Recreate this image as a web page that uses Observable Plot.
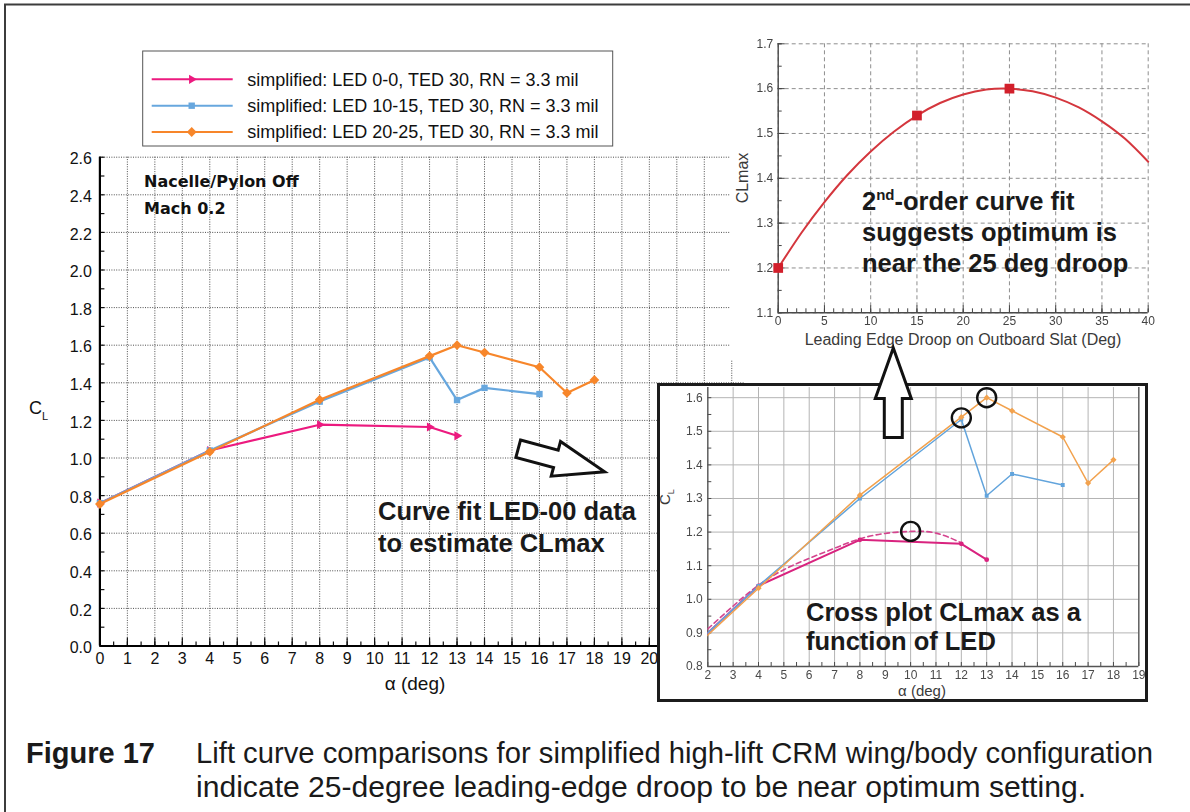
<!DOCTYPE html>
<html>
<head>
<meta charset="utf-8">
<script src="https://cdn.jsdelivr.net/npm/d3@7"></script>
<script src="https://cdn.jsdelivr.net/npm/@observablehq/plot@0.6"></script>
<style>
  html, body { margin: 0; padding: 0; background: #fff; }
  #figure { position: relative; width: 1190px; height: 812px; overflow: hidden; background: #fff; }
  .panel { position: absolute; }
  #droop { filter: blur(0.35px); }
  #inset { position: absolute; left: 657px; top: 383px; width: 485px; height: 313px;
           border: 3px solid #1c1c1c; background: #fff; overflow: hidden; }
  #inset > svg { filter: blur(0.3px); }
  #overlay { position: absolute; left: 0; top: 0; pointer-events: none; }
</style>
</head>
<body>
<div id="figure">
  <div id="main" class="panel" style="left:0;top:0"></div>
  <div id="droop" class="panel" style="left:730px;top:0"></div>
  <div id="inset"></div>
  <svg id="overlay" width="1190" height="812"></svg>
</div>
<script>
const FONT = '"Liberation Sans", Arial, Helvetica, sans-serif';

// ---- lift curves: angle of attack (deg) vs CL, one array pair per slat setting ----
const seriesNames = [
  "simplified: LED 0-0, TED 30, RN = 3.3 mil",
  "simplified: LED 10-15, TED 30, RN = 3.3 mil",
  "simplified: LED 20-25, TED 30, RN = 3.3 mil"
];
const seriesColors = ["#ec1a7f", "#67a7de", "#f7862a"];
const insetColors  = ["#d9237f", "#62a4dc", "#f2a24e"];
const seriesSymbols = ["triangle", "square", "diamond2"];
const seriesRotate  = [90, 0, 0];
const seriesR       = [3.4, 3.6, 4.4];
const insetR        = [2.4, 2.2, 2.8];

const alphaLED00   = [0, 4, 8, 12, 13];
const clLED00      = [0.76, 1.04, 1.177, 1.165, 1.118];
const alphaLED1015 = [0, 4, 8, 12, 13, 14, 16];
const clLED1015    = [0.76, 1.04, 1.30, 1.535, 1.308, 1.373, 1.34];
const alphaLED2025 = [0, 4, 8, 12, 13, 14, 16, 17, 18];
const clLED2025    = [0.755, 1.033, 1.31, 1.542, 1.60, 1.561, 1.483, 1.346, 1.415];

// curve fit through the LED 0-0 points (dashed in the close-up)
const fitAlpha = [2, 3, 4, 5, 6, 7, 8, 9, 10, 11, 12];
const fitCL    = [0.912, 0.980, 1.042, 1.088, 1.122, 1.152, 1.180, 1.196, 1.202, 1.197, 1.168];

// CLmax picked off each curve (circled)
const clmaxAlpha = [10, 12, 13];
const clmaxCL    = [1.202, 1.54, 1.60];

// cross plot: CLmax against leading-edge droop, with its 2nd-order fit
const droopDeg      = [0, 15, 25];
const droopCLmax    = [1.20, 1.54, 1.60];
const droopFitDeg   = [0, 2.5, 5, 7.5, 10, 12.5, 15, 17.5, 20, 22.5, 25, 27.5, 30, 32.5, 35, 37.5, 40];
const droopFitCLmax = [1.200, 1.278, 1.347, 1.408, 1.460, 1.504, 1.540, 1.568, 1.587, 1.598, 1.600, 1.594, 1.580, 1.558, 1.527, 1.488, 1.437];

// tick values
const mainAlphaTicks  = [0, 1, 2, 3, 4, 5, 6, 7, 8, 9, 10, 11, 12, 13, 14, 15, 16, 17, 18, 19, 20];
const mainCLTicks     = [0.0, 0.2, 0.4, 0.6, 0.8, 1.0, 1.2, 1.4, 1.6, 1.8, 2.0, 2.2, 2.4, 2.6];
const insetAlphaTicks = [2, 3, 4, 5, 6, 7, 8, 9, 10, 11, 12, 13, 14, 15, 16, 17, 18, 19];
const insetCLTicks    = [0.8, 0.9, 1.0, 1.1, 1.2, 1.3, 1.4, 1.5, 1.6];
const droopTicks      = [0, 5, 10, 15, 20, 25, 30, 35, 40];
const droopCLTicks    = [1.1, 1.2, 1.3, 1.4, 1.5, 1.6, 1.7];

// ---- tables built from the arrays ----
const lift = [[alphaLED00, clLED00], [alphaLED1015, clLED1015], [alphaLED2025, clLED2025]]
  .map(([a, c], s) => a.map((alpha, i) => ({series: s, alpha, cl: c[i]})));
const fit = fitAlpha.map((alpha, i) => ({alpha, cl: fitCL[i]}));
const clmax = clmaxAlpha.map((alpha, i) => ({alpha, cl: clmaxCL[i]}));
const droopPts = droopDeg.map((deg, i) => ({deg, cl: droopCLmax[i]}));
const droopFit = droopFitDeg.map((deg, i) => ({deg, cl: droopFitCLmax[i]}));

const fmt1 = d3.format(".1f");
const blank = () => "";
const steps = (lo, hi, step) => d3.range(Math.round((hi - lo) / step) + 1).map(i => +(lo + i * step).toFixed(3));

// ---- main lift-curve chart (its right part runs under the two insets) ----
const dotted = {stroke: "#3a3a3a", strokeWidth: 0.9, strokeDasharray: "1 1.4", strokeOpacity: 1};
const mainGridAlpha = steps(0, 23, 1);
const mainPlot = Plot.plot({
  width: 760, height: 700,
  marginTop: 156.7, marginRight: 15, marginBottom: 54.5, marginLeft: 99.4,
  x: {domain: [0, 23.5], label: null},
  y: {domain: [0, 2.6], label: null},
  style: {fontFamily: FONT, fontSize: "16px", color: "#111", background: "transparent", overflow: "visible"},
  marks: [
    Plot.gridX(mainGridAlpha, dotted),
    Plot.gridY(mainCLTicks, dotted),
    Plot.axisY(steps(0, 2.6, 0.1), {tickSize: -5, tickFormat: blank, strokeWidth: 1.2, label: null}),
    Plot.axisX(steps(0, 23, 0.5), {tickSize: -4, tickFormat: blank, strokeWidth: 1.2, label: null}),
    Plot.axisX(mainGridAlpha, {tickSize: -8, tickFormat: blank, strokeWidth: 1.2, label: null}),
    Plot.axisY(mainCLTicks, {tickSize: 0, tickPadding: 8, tickFormat: fmt1, fontSize: 16, dy: 2, label: null}),
    Plot.axisX(mainAlphaTicks, {tickSize: 0, tickPadding: 7, fontSize: 16, label: null}),
    Plot.ruleX([0], {stroke: "#000", strokeWidth: 2.2}),
    Plot.ruleY([0], {stroke: "#000", strokeWidth: 2.2}),
    ...lift.flatMap((rows, s) => [
      Plot.line(rows, {x: "alpha", y: "cl", stroke: seriesColors[s], strokeWidth: 2.2}),
      Plot.dot(rows, {x: "alpha", y: "cl", symbol: seriesSymbols[s], rotate: seriesRotate[s],
                      r: seriesR[s], fill: seriesColors[s], stroke: "none"})
    ])
  ]
});
document.getElementById("main").append(mainPlot);

// ---- CLmax vs droop cross plot ----
const dashed = {stroke: "#8e8e8e", strokeWidth: 1, strokeDasharray: "4 3", strokeOpacity: 1};
const droopPlot = Plot.plot({
  width: 450, height: 360,
  marginTop: 43.3, marginRight: 32.3, marginBottom: 47.7, marginLeft: 47.7,
  x: {domain: [0, 40], label: null},
  y: {domain: [1.1, 1.7], label: null},
  style: {fontFamily: FONT, fontSize: "12px", color: "#444", background: "white", overflow: "visible"},
  marks: [
    Plot.gridX(droopTicks, dashed),
    Plot.gridY(droopCLTicks, dashed),
    Plot.axisX(steps(0, 40, 1), {tickSize: -4, tickFormat: blank, label: null}),
    Plot.axisX(droopTicks, {tickSize: -7, tickFormat: blank, label: null}),
    Plot.axisY(steps(1.1, 1.7, 0.05), {tickSize: -4, tickFormat: blank, label: null}),
    Plot.axisY(droopCLTicks, {tickSize: -7, tickFormat: blank, label: null}),
    Plot.axisY(droopCLTicks, {tickSize: 0, tickPadding: 5, tickFormat: fmt1, fontSize: 12, label: null}),
    Plot.axisX(droopTicks, {tickSize: 0, tickPadding: 4, fontSize: 12, label: null}),
    Plot.ruleX([0], {stroke: "#4a4a4a", strokeWidth: 1.4}),
    Plot.ruleY([1.1], {stroke: "#4a4a4a", strokeWidth: 1.4}),
    Plot.line(droopFit, {x: "deg", y: "cl", curve: "natural", stroke: "#d4363d", strokeWidth: 2}),
    Plot.dot(droopPts, {x: "deg", y: "cl", symbol: "square", r: 5.5, fill: "#d21f2b", stroke: "none"})
  ]
});
document.getElementById("droop").append(droopPlot);

// ---- close-up of the stall region ----
const solidGrid = {stroke: "#b4b4b4", strokeWidth: 1, strokeOpacity: 1};
const insetPlot = Plot.plot({
  width: 485, height: 313,
  marginTop: 1.1, marginRight: 6.7, marginBottom: 33, marginLeft: 47.3,
  x: {domain: [2, 19], label: null},
  y: {domain: [0.8, 1.63], label: null},
  style: {fontFamily: FONT, fontSize: "12px", color: "#4a4a4a", background: "white", overflow: "hidden"},
  marks: [
    Plot.gridX(insetAlphaTicks, solidGrid),
    Plot.gridY(insetCLTicks, solidGrid),
    Plot.axisX(steps(2, 19, 0.5), {tickSize: -4, tickFormat: blank, label: null}),
    Plot.axisY(steps(0.8, 1.6, 0.05), {tickSize: -4, tickFormat: blank, label: null}),
    Plot.axisY(insetCLTicks, {tickSize: 0, tickPadding: 5, tickFormat: fmt1, fontSize: 12, label: null}),
    Plot.axisX(insetAlphaTicks, {tickSize: 0, tickPadding: 4, fontSize: 12, label: null}),
    Plot.ruleX([2, 19], {stroke: "#555", strokeWidth: 1.3}),
    Plot.ruleY([0.8], {stroke: "#555", strokeWidth: 1.3}),
    Plot.line(fit, {x: "alpha", y: "cl", curve: "natural", stroke: "#d4448e", strokeWidth: 1.6,
                    strokeDasharray: "5 3.5", clip: true}),
    ...lift.flatMap((rows, s) => [
      Plot.line(rows, {x: "alpha", y: "cl", stroke: insetColors[s], strokeWidth: s === 0 ? 2 : 1.5, clip: true}),
      Plot.dot(rows, {x: "alpha", y: "cl", symbol: s === 1 ? "square" : (s === 2 ? "diamond2" : "circle"),
                      r: insetR[s], fill: insetColors[s], stroke: "none", clip: true})
    ]),
    Plot.dot(clmax, {x: "alpha", y: "cl", r: 9.5, fill: "none", stroke: "#111", strokeWidth: 2.4})
  ]
});
document.getElementById("inset").append(insetPlot);

// ---- legend, annotations, arrows and caption ----
const svg = d3.select("#overlay");

svg.append("path").attr("d", "M5,812V4.5H1190")
  .attr("fill", "none").attr("stroke", "#3c3c3c").attr("stroke-width", 2);

// legend
const legend = svg.append("g").attr("font-family", FONT).attr("font-size", 18).attr("fill", "#111");
legend.append("rect").attr("x", 142.7).attr("y", 51).attr("width", 470).attr("height", 95)
  .attr("fill", "white").attr("stroke", "#555").attr("stroke-width", 1);
const symbolTypes = {triangle: d3.symbolTriangle, square: d3.symbolSquare, diamond2: d3.symbolDiamond2};
const rowY = [79.3, 105.7, 132];
seriesNames.forEach((name, s) => {
  const y = rowY[s];
  legend.append("line").attr("x1", 151.7).attr("x2", 232.7).attr("y1", y).attr("y2", y)
    .attr("stroke", seriesColors[s]).attr("stroke-width", 2);
  legend.append("path")
    .attr("d", d3.symbol(symbolTypes[seriesSymbols[s]], Math.PI * seriesR[s] * seriesR[s])())
    .attr("transform", `translate(191.7,${y}) rotate(${seriesRotate[s]})`)
    .attr("fill", seriesColors[s]);
  legend.append("text").attr("x", 247.3).attr("y", y + 6.4).text(name);
});

// flight condition note
const note = svg.append("g").attr("font-family", '"DejaVu Sans", Verdana, sans-serif')
  .attr("font-weight", "bold").attr("font-size", 16).attr("fill", "#111");
note.append("text").attr("x", 144).attr("y", 187).text("Nacelle/Pylon Off");
note.append("text").attr("x", 144).attr("y", 214).text("Mach 0.2");

// axis titles
const titles = svg.append("g").attr("font-family", FONT).attr("fill", "#111");
const mainCL = titles.append("text").attr("x", 29).attr("y", 414).attr("font-size", 18);
mainCL.append("tspan").text("C");
mainCL.append("tspan").attr("font-size", 11).attr("dy", 6).text("L");
titles.append("text").attr("x", 415).attr("y", 690).attr("font-size", 19)
  .attr("text-anchor", "middle").text("α (deg)");

titles.append("text").attr("transform", "translate(748,178) rotate(-90)")
  .attr("font-size", 16).attr("fill", "#3a3a3a").attr("text-anchor", "middle").text("CLmax");
titles.append("text").attr("x", 963).attr("y", 345).attr("font-size", 16).attr("fill", "#3a3a3a")
  .attr("text-anchor", "middle").text("Leading Edge Droop on Outboard Slat (Deg)");

const insetCL = titles.append("text").attr("transform", "translate(670,505) rotate(-90)")
  .attr("font-size", 15).attr("fill", "#3a3a3a");
insetCL.append("tspan").text("C");
insetCL.append("tspan").attr("font-size", 9).attr("dy", 4).text("L");
titles.append("text").attr("x", 922).attr("y", 696).attr("font-size", 15).attr("fill", "#3a3a3a")
  .attr("text-anchor", "middle").text("α (deg)");

// callouts
const call = svg.append("g").attr("font-family", FONT).attr("font-weight", "bold")
  .attr("font-size", 25.5).attr("fill", "#1a1a1a");
call.append("text").attr("x", 378).attr("y", 520).text("Curve fit LED-00 data");
call.append("text").attr("x", 378).attr("y", 552).text("to estimate CLmax");
const t2 = call.append("text").attr("x", 862).attr("y", 210);
t2.append("tspan").text("2");
t2.append("tspan").attr("font-size", 15).attr("dy", -10).text("nd");
t2.append("tspan").attr("dy", 10).text("-order curve fit");
call.append("text").attr("x", 862).attr("y", 241).text("suggests optimum is");
call.append("text").attr("x", 862).attr("y", 272).text("near the 25 deg droop");
call.append("text").attr("x", 806).attr("y", 621).text("Cross plot CLmax as a");
call.append("text").attr("x", 806).attr("y", 650).text("function of LED");

// hollow block arrows
const arrowShape = "0,-9 39,-9 39,-18 89.5,0 39,18 39,9 0,9";
svg.append("polygon").attr("points", arrowShape).attr("transform", "translate(518.2,448.7) rotate(15)")
  .attr("fill", "white").attr("stroke", "#111").attr("stroke-width", 3).attr("stroke-linejoin", "miter");
svg.append("polygon").attr("points", arrowShape).attr("transform", "translate(893.3,437.5) rotate(-90)")
  .attr("fill", "white").attr("stroke", "#111").attr("stroke-width", 3).attr("stroke-linejoin", "miter");

// caption
const cap = svg.append("g").attr("font-family", FONT).attr("font-size", 29).attr("fill", "#1a1a1a");
cap.append("text").attr("x", 26).attr("y", 763).attr("font-weight", "bold").text("Figure 17");
cap.append("text").attr("x", 196).attr("y", 763)
  .attr("textLength", 957).attr("lengthAdjust", "spacingAndGlyphs")
  .text("Lift curve comparisons for simplified high-lift CRM wing/body configuration");
cap.append("text").attr("x", 196).attr("y", 797)
  .attr("textLength", 890).attr("lengthAdjust", "spacingAndGlyphs")
  .text("indicate 25-degree leading-edge droop to be near optimum setting.");
</script>
</body>
</html>
